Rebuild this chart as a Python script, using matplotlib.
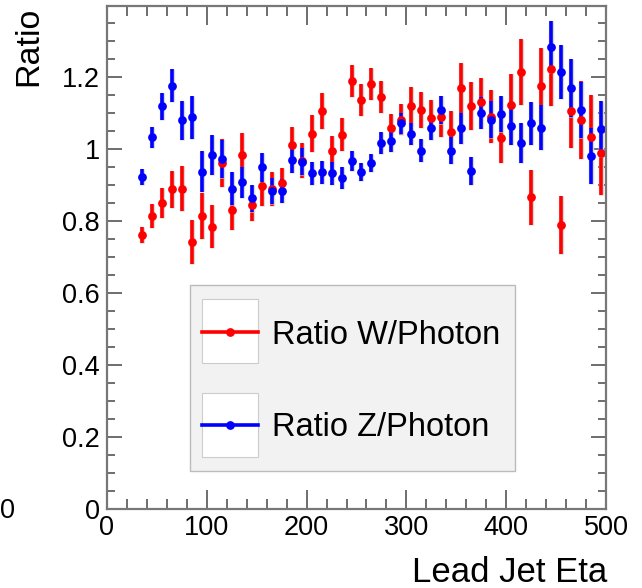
#!/usr/bin/env python3
"""Ratio W/Photon and Z/Photon versus lead jet eta, ROOT-style error-bar plot."""

import matplotlib

matplotlib.use("Agg")
import matplotlib.pyplot as plt
import matplotlib.patheffects as pe
from matplotlib.lines import Line2D
from matplotlib.patches import Rectangle
from matplotlib.ticker import FixedLocator, MultipleLocator

plt.rcParams["font.family"] = ["Liberation Sans", "DejaVu Sans"]

# bin centres (Lead Jet Eta)
eta = [35, 45, 55, 65, 75, 85, 95, 105, 115, 125, 135, 145, 155, 165, 175,
       185, 195, 205, 215, 225, 235, 245, 255, 265, 275, 285, 295, 305, 315,
       325, 335, 345, 355, 365, 375, 385, 395, 405, 415, 425, 435, 445, 455,
       465, 475, 485, 495]

ratio_w = [0.761, 0.814, 0.849, 0.888, 0.890, 0.742, 0.814, 0.784, 0.960,
           0.831, 0.983, 0.843, 0.897, 0.889, 0.905, 1.010, 0.967, 1.042,
           1.105, 0.993, 1.039, 1.189, 1.135, 1.180, 1.144, 1.059, 1.081,
           1.118, 1.108, 1.085, 1.090, 1.046, 1.170, 1.119, 1.131, 1.090,
           1.031, 1.122, 1.213, 0.866, 1.176, 1.222, 0.788, 1.104, 1.081,
           1.034, 0.988]
err_w = [0.023, 0.033, 0.042, 0.052, 0.063, 0.062, 0.065, 0.060, 0.067,
         0.056, 0.060, 0.042, 0.055, 0.048, 0.043, 0.052, 0.049, 0.051,
         0.050, 0.044, 0.046, 0.044, 0.044, 0.044, 0.045, 0.038, 0.043,
         0.054, 0.051, 0.052, 0.056, 0.059, 0.069, 0.067, 0.067, 0.074,
         0.069, 0.085, 0.092, 0.076, 0.104, 0.104, 0.080, 0.100, 0.109,
         0.117, 0.115]

ratio_z = [0.921, 1.032, 1.118, 1.176, 1.079, 1.088, 0.937, 0.983, 0.972,
           0.889, 0.907, 0.863, 0.949, 0.884, 0.883, 0.968, 0.965, 0.932,
           0.935, 0.932, 0.920, 0.967, 0.935, 0.962, 1.016, 1.022, 1.071,
           1.041, 0.995, 1.057, 1.108, 0.995, 1.057, 0.940, 1.099, 1.081,
           1.097, 1.065, 1.016, 1.071, 1.059, 1.284, 1.213, 1.170, 1.108,
           0.981, 1.056]
err_z = [0.022, 0.028, 0.037, 0.046, 0.053, 0.060, 0.056, 0.056, 0.052,
         0.046, 0.044, 0.038, 0.041, 0.036, 0.034, 0.036, 0.038, 0.031,
         0.032, 0.032, 0.030, 0.028, 0.025, 0.025, 0.030, 0.030, 0.030,
         0.030, 0.032, 0.033, 0.038, 0.037, 0.043, 0.039, 0.044, 0.051,
         0.051, 0.054, 0.056, 0.060, 0.063, 0.072, 0.075, 0.080, 0.077,
         0.077, 0.077]

series = [
    ("Ratio W/Photon", ratio_w, err_w, "#ff0000"),
    ("Ratio Z/Photon", ratio_z, err_z, "#0000ff"),
]

W, H = 642, 588
fig = plt.figure(figsize=(W / 100, H / 100), dpi=100)
ax = fig.add_axes([107 / W, 1 - 509 / H, (606 - 107) / W, (509 - 6) / H])

halo = [pe.withStroke(linewidth=3.8, foreground="#d8d8d8")]
for label, vals, errs, color in series:
    _, _, bars = ax.errorbar(eta, vals, yerr=errs, fmt="o", color=color,
                             ms=6.3, elinewidth=2.6, capsize=0, mew=0)
    for b in bars:
        b.set_path_effects(halo)

ax.set_xlim(0, 500)
ax.set_ylim(0, 1.397)

ax.xaxis.set_major_locator(MultipleLocator(100))
ax.xaxis.set_minor_locator(MultipleLocator(20))
ax.yaxis.set_major_locator(FixedLocator([0, 0.2, 0.4, 0.6, 0.8, 1.0, 1.2]))
ax.yaxis.set_minor_locator(MultipleLocator(0.05))
ax.set_yticklabels(["0", "0.2", "0.4", "0.6", "0.8", "1", "1.2"])

ax.tick_params(axis="both", which="both", direction="in", top=True,
               right=True, color="#555555", width=1.2, labelsize=19.5)
ax.tick_params(axis="x", which="major", length=14, pad=4)
ax.tick_params(axis="x", which="minor", length=7)
ax.tick_params(axis="y", which="major", length=11, pad=5)
ax.tick_params(axis="y", which="minor", length=6)
for s in ax.spines.values():
    s.set_color("#777777")
    s.set_linewidth(1.6)

fig.text(607 / W, 1 - 573 / H, "Lead Jet Eta", ha="right", va="center",
         fontsize=25)
fig.text(29 / W, 1 - 7 / H, "Ratio", ha="center", va="top", rotation=90,
         fontsize=24.5)
# label from a neighbouring pad, at the left edge
fig.text(0, 1 - 511 / H, "0", ha="left", va="center", fontsize=19.5)


def fx(px):
    return px / W


def fy(py):
    return 1 - py / H


# legend box, drawn by hand in figure pixels
fig.add_artist(Rectangle((fx(190), fy(471)), fx(515) - fx(190), fy(285) - fy(471),
                         transform=fig.transFigure, facecolor="#f2f2f2",
                         edgecolor="#bbbbbb", lw=1.0))
for i, (label, vals, errs, color) in enumerate(series):
    top = 299 + 94 * i
    ymid = 332 + 93 * i
    fig.add_artist(Rectangle((fx(202), fy(top + 64)), fx(258) - fx(202), fy(top) - fy(top + 64),
                             transform=fig.transFigure, facecolor="white",
                             edgecolor="#cccccc", lw=0.8))
    fig.add_artist(Line2D([fx(202), fx(258)], [fy(ymid), fy(ymid)],
                          transform=fig.transFigure, color=color, lw=2.6))
    fig.add_artist(Line2D([fx(230)], [fy(ymid)], transform=fig.transFigure,
                          color=color, marker="o", ms=6.3, mew=0))
    fig.text(fx(272), fy(ymid + 3), label, ha="left", va="center", fontsize=23.5)

fig.savefig("out.png", dpi=100)
